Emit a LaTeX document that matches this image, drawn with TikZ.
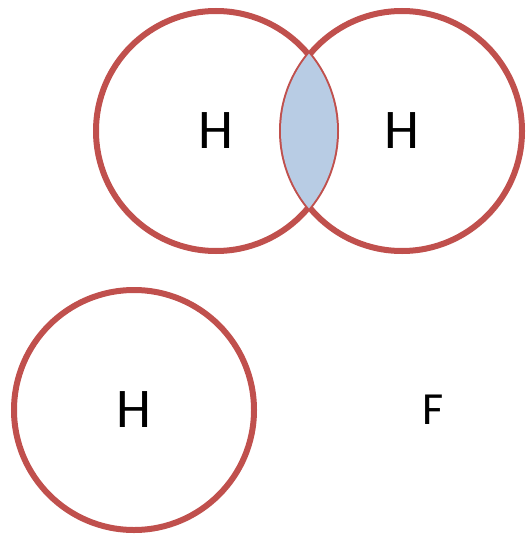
\documentclass[tikz,border=0pt]{standalone}
\usepackage{fontspec}
\setmainfont{Carlito}
\usetikzlibrary{positioning}
\definecolor{ringred}{RGB}{192,80,77}
\definecolor{lensblue}{RGB}{184,204,228}

\begin{document}
\begin{tikzpicture}[x=1pt,y=-1pt,atom/.style={draw=ringred,line width=6pt,circle,minimum size=240pt,inner sep=0pt,font=\fontsize{56}{56}\selectfont},lbl/.style={font=\fontsize{46}{46}\selectfont}]
\useasboundingbox (0,0) rectangle (528,535);
\node[atom](ha) at (216,131){H};
\node[atom](hb) at (402,131){H};
\node[atom](hc) at (134,410){H};
\node[lbl](f) at (433,410){F};
% shared region of the two top atoms
\begin{scope}
\clip (ha.center) circle (121pt);
\fill[lensblue] (hb.center) circle (121pt);
\end{scope}
\end{tikzpicture}
\end{document}
